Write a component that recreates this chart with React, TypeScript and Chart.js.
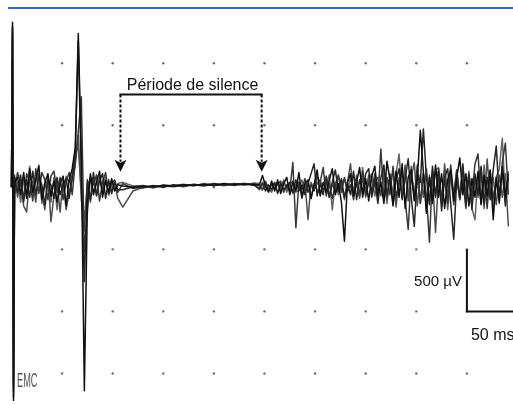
import { useEffect, useRef } from 'react';
import { Chart, registerables } from 'chart.js';

Chart.register(...registerables);

// ---- axes (ms / µV) ----
const X_MIN = -7.4;
const X_MAX = 491.6;
const Y_MIN = -1722;
const Y_MAX = 1477;

// grid of dots
const GRID_X_MS = [50, 100, 150, 200, 250, 300, 350, 400, 450];
const GRID_Y_UV = [1000, 500, 0, -500, -1000, -1500];

// annotation
const SILENCE_LABEL = 'Période de silence';
const SILENCE_START_MS = 107.7;
const SILENCE_END_MS = 247.2;
const BRACKET_UV = 748;
const LABEL_UV = 788;
const ARROW_TIP_UV = 126;

// scale bar
const BAR_X_MS = 450;
const BAR_LEN_MS = 50;
const BAR_TOP_UV = -500;
const BAR_BOTTOM_UV = -1000;
const BAR_V_LABEL = '500 µV';
const BAR_H_LABEL = '50 ms';
const LOGO = 'EMC';

// ---- time base (ms) ----
const TIME_MS = [
  0, 1, 2, 3,
  6, 9, 12, 15, 18, 21, 24, 27, 30, 33,
  36, 39, 42, 45, 48, 51, 54, 57, 60, 63,
  66, 69, 72, 75, 78, 81, 84, 87, 90, 93,
  96, 99, 102, 105,
  110, 120, 130, 140, 150, 160, 170, 180, 190, 200, 210, 220, 230, 240,
  245, 248, 251, 254, 257, 260, 263, 266, 269, 272,
  275, 278, 281, 284, 287, 290, 293, 296, 299, 302,
  305, 308, 311, 314, 317, 320, 323, 326, 329, 332,
  335, 338, 341, 344, 347, 350, 353, 356, 359, 362,
  365, 368, 371, 374, 377, 380, 383, 386, 389, 392,
  395, 398, 401, 404, 407, 410, 413, 416, 419, 422,
  425, 428, 431, 434, 437, 440, 443, 446, 449, 452,
  455, 458, 461, 464, 467, 470, 473, 476, 479, 482,
  485, 488, 491,
];

// ---- traces (µV) ----
const TRACE_A = [
  0, 1330, -1720, 40,
  80, -60, 120, -90, 150, -40, 60, 170, -100, 40,
  110, -70, 50, -120, 30, 90, -150, 60, 150, 320,
  1240, 250, -1640, -120, 110, -60, 40, 130, -80, 50,
  -40, 70, -30, 20,
  10, 0, 10, 5, 15, 10, 20, 15, 25, 15, 30, 20, 25, 20,
  20, 95, 10, -40, 50, -30, 60, -50, 30, 80,
  -60, 40, -30, 120, -80, 30, 60, -90, 20, 140,
  -70, 40, -40, 60, 150, -60, 30, -120, -435, 40,
  110, -70, 40, 160, -80, 70, -110, 90, 170, -60,
  40, -130, 210, 60, -140, 130, -80, 190, -170, 80,
  140, -110, 70, 460, 120, -210, 80, -130, 180, -80,
  110, -170, 60, 140, -110, 80, 237, -60, 110, -150,
  70, -80, 130, -140, 100, -70, 140, -261, 80, -110,
  170, -80, 110,
];

const TRACE_B = [
  0, 1300, -1690, 80,
  -40, 100, -120, 60, -80, 130, -60, 90, 20, -140,
  60, 20, -90, 80, -60, 20, 70, -90, 80, 250,
  1180, 100, -760, 60, -100, 120, -70, 50, 110, -90,
  60, -50, 40, -20,
  -20, 5, -5, 15, 0, 20, 10, 25, 15, 30, 20, 25, 30, 15,
  -10, 30, -30, 20, -20, 40, -50, 30, -20, 10,
  40, -40, 60, -30, 20, -60, 30, 110, 190, -70,
  30, -60, 90, -80, 40, 140, -30, 70, -80, 30,
  -60, 130, -100, 60, -40, 110, 150, -80, 60, -130,
  80, 180, -70, 110, -150, 60, 150, -100, 70, 230,
  -80, -316, 110, 40, 470, 80, -140, 170, -80, 130,
  -190, 80, 150, -130, -419, 70, -80, 190, -140, 100,
  -180, 110, -60, 170, -130, 80, -100, 140, 332, -80,
  130, -150, 80,
];

const TRACE_C = [
  0, 1280, -1650, -30,
  120, 20, -80, 110, 40, -110, 150, -50, 120, 60,
  -100, 90, 130, -40, 80, -100, 40, 120, -60, 200,
  450, 730, -520, -200, 80, 20, 100, -110, 40, 120,
  -60, 30, 60, -40,
  30, -10, 5, 0, 10, 5, 15, 20, 10, 25, 15, 30, 20, 30,
  10, -20, 40, -30, 30, -10, 20, 50, -40, 20,
  -30, 200, -325, 40, -20, 70, -40, 20, -30, 90,
  40, 160, -70, 30, -90, 20, 100, -40, 80, -30,
  20, -100, 70, -60, 130, -70, 40, -30, 110, -90,
  308, -110, 80, -60, 170, -80, 40, 130, -100, -340,
  100, -70, 180, -130, 110, -60, -442, 130, -70, 150,
  -100, 70, -130, 180, -70, 140, -90, 60, -170, 110,
  -70, 190, 269, -110, 80, -170, 130, -90, 60, -130,
  200, 355, -60,
];

const TRACE_D = [
  0, 1250, -1600, 100,
  -80, 60, -150, -200, 90, 40, -120, 110, -60, -180,
  90, -277, -60, 40, -200, 60, -180, -40, 60, 180,
  420, -100, -350, 40, -120, 60, -60, 90, -40, 60,
  20, -30, 40, -90,
  -160, -30, 0, 10, 5, 15, 5, 20, 20, 15, 25, 15, 30, 25,
  -20, 40, 10, -30, 20, 30, -40, 10, 50, -20,
  30, -50, 20, 40, -90, 30, -261, 40, -20, 30,
  60, -30, 40, -80, 30, -40, 90, 20, -100, 40,
  190, -60, 30, -90, 70, -40, 100, -60, 40, 80,
  -70, 140, -100, 70, 110, -158, 80, -60, 180, -110,
  80, 200, -150, 100, -80, 150, -110, 80, -363, 70,
  -130, 190, -80, 110, -140, 70, -100, 150, -60, 80,
  -130, 70, -80, 110, -170, 229, -70, 80, -140, 100,
  -80, 110, -316,
];

const TRACE_E = [
  0, 1200, -1550, -60,
  40, -120, 60, -60, 170, -60, 40, 180, -130, 20,
  60, -120, 80, -180, 50, -40, 90, 40, 100, 280,
  320, -40, -260, 30, 60, -40, 30, 60, -20, 80,
  -60, 50, -20, 30,
  40, 10, 15, -5, 20, 10, 25, 10, 30, 20, 15, 25, 20, 35,
  30, -20, 50, -10, -40, 20, 40, -30, 60, -40,
  20, 50, -40, -20, 60, -30, 40, -90, 30, -20,
  -50, 30, 20, 100, -182, 40, -60, 30, 70, -40,
  80, -40, 100, -70, 160, -80, 60, 110, -70, 40,
  -60, 100, -130, 80, -40, 110, 269, -80, 130, -70,
  170, -100, 80, -130, 110, -180, 100, -80, 140, 158,
  -110, 130, -180, 80, -60, 140, -100, 170, -80, 130,
  -170, -261, 100, -130, 180, -100, 130, -170, 80, 150,
  395, -110, 130,
];

const TRACES = [TRACE_A, TRACE_B, TRACE_C, TRACE_D, TRACE_E];
const TRACE_COLORS = ['#111111', '#262626', '#383838', '#4e4e4e', '#636363'];

const FONT = '"Liberation Sans", Arial, Helvetica, sans-serif';

const overlayPlugin = {
  id: 'emgOverlay',
  afterDatasetsDraw(chart: any) {
    const { ctx, scales } = chart;
    const xs = scales.x;
    const ys = scales.y;
    ctx.save();

    // --- silence bracket ---
    const x1 = xs.getPixelForValue(SILENCE_START_MS);
    const x2 = xs.getPixelForValue(SILENCE_END_MS);
    const yb = ys.getPixelForValue(BRACKET_UV);
    const yt = ys.getPixelForValue(ARROW_TIP_UV);
    ctx.strokeStyle = '#111';
    ctx.fillStyle = '#111';
    ctx.lineWidth = 2;
    ctx.beginPath();
    ctx.moveTo(x1 - 1, yb);
    ctx.lineTo(x2 + 1, yb);
    ctx.stroke();
    ctx.setLineDash([3, 2]);
    [x1, x2].forEach((xa) => {
      ctx.beginPath();
      ctx.moveTo(xa, yb);
      ctx.lineTo(xa, yt - 10);
      ctx.stroke();
    });
    ctx.setLineDash([]);
    [x1, x2].forEach((xa) => {
      ctx.beginPath();
      ctx.moveTo(xa - 6, yt - 12);
      ctx.lineTo(xa, yt - 9);
      ctx.lineTo(xa + 6, yt - 12);
      ctx.lineTo(xa, yt);
      ctx.closePath();
      ctx.fill();
    });
    ctx.font = `16px ${FONT}`;
    ctx.textAlign = 'center';
    ctx.textBaseline = 'alphabetic';
    ctx.fillText(SILENCE_LABEL, (x1 + x2) / 2 + 1.5, ys.getPixelForValue(LABEL_UV));

    // --- scale bar ---
    const bx = xs.getPixelForValue(BAR_X_MS);
    const bx2 = xs.getPixelForValue(BAR_X_MS + BAR_LEN_MS);
    const by1 = ys.getPixelForValue(BAR_TOP_UV);
    const by2 = ys.getPixelForValue(BAR_BOTTOM_UV);
    ctx.lineWidth = 2;
    ctx.beginPath();
    ctx.moveTo(bx, by1);
    ctx.lineTo(bx, by2);
    ctx.lineTo(bx2, by2);
    ctx.stroke();
    ctx.font = `15px ${FONT}`;
    ctx.textAlign = 'right';
    ctx.textBaseline = 'middle';
    ctx.fillText(BAR_V_LABEL, bx - 5, (by1 + by2) / 2 + 1);
    ctx.font = `16px ${FONT}`;
    ctx.textAlign = 'left';
    ctx.textBaseline = 'top';
    ctx.fillText(BAR_H_LABEL, bx + 4, by2 + 16);

    // --- logo ---
    ctx.fillStyle = '#555';
    ctx.translate(17, 387);
    ctx.scale(0.46, 1);
    ctx.font = `20px ${FONT}`;
    ctx.textAlign = 'left';
    ctx.textBaseline = 'alphabetic';
    ctx.fillText(LOGO, 0, 0);

    ctx.restore();
  },
};

export default function App() {
  const ref = useRef<HTMLCanvasElement>(null);

  useEffect(() => {
    if (!ref.current) return;
    const dots: { x: number; y: number }[] = [];
    GRID_X_MS.forEach((gx) => GRID_Y_UV.forEach((gy) => dots.push({ x: gx, y: gy })));

    const traceSets = TRACES.map((tr, i) => ({
      type: 'line' as const,
      data: TIME_MS.map((t, k) => ({ x: t, y: tr[k] })),
      borderColor: TRACE_COLORS[i],
      borderWidth: 1.5,
      borderJoinStyle: 'round' as const,
      pointRadius: 0,
      tension: 0,
      fill: false,
      order: i + 1,
    }));

    const chart = new Chart(ref.current, {
      type: 'line',
      data: {
        datasets: [
          ...traceSets,
          {
            type: 'scatter' as const,
            data: dots,
            pointRadius: 1.2,
            pointBackgroundColor: '#6e6e6e',
            pointBorderWidth: 0,
            showLine: false,
            order: 10,
          } as any,
        ],
      },
      options: {
        animation: false,
        responsive: false,
        devicePixelRatio: 1,
        layout: { padding: 0 },
        plugins: { legend: { display: false }, tooltip: { enabled: false } },
        scales: {
          x: { type: 'linear', min: X_MIN, max: X_MAX, display: false },
          y: { type: 'linear', min: Y_MIN, max: Y_MAX, display: false },
        },
      },
      plugins: [overlayPlugin],
    });
    return () => chart.destroy();
  }, []);

  return (
    <div style={{ position: 'fixed', left: 0, top: 0, width: 513, height: 405, background: '#fff' }}>
      <canvas ref={ref} width={513} height={405} style={{ position: 'absolute', left: 0, top: 0 }} />
      <div style={{ position: 'absolute', left: 8, right: 0, top: 7, height: 2, background: '#3567bc' }} />
    </div>
  );
}
